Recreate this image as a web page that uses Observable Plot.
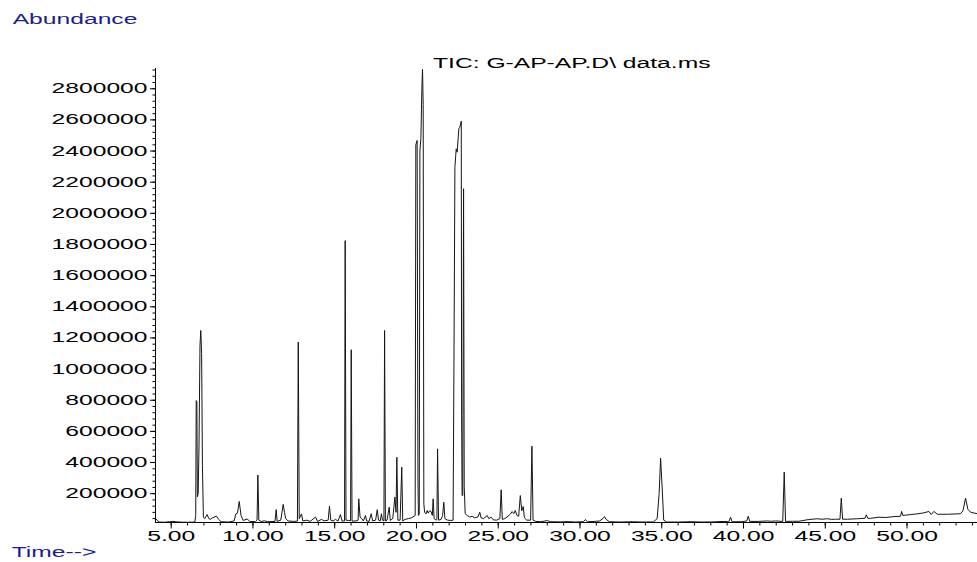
<!DOCTYPE html>
<html><head><meta charset="utf-8">
<script src="https://cdn.jsdelivr.net/npm/d3@7"></script>
<script src="https://cdn.jsdelivr.net/npm/@observablehq/plot@0.6"></script>
<style>
html,body{margin:0;padding:0;background:#fff;}
#chart{position:relative;width:977px;height:562px;overflow:hidden;}
</style></head><body><div id="chart"></div>
<script>
// Retention time (min)
const times = [
  4.04, 4.15, 4.25, 4.6, 4.9, 5.1, 5.35, 5.7, 6.0, 6.3,
  6.45, 6.50, 6.53, 6.57, 6.60, 6.65, 6.70, 6.76, 6.81, 6.86,
  6.91, 6.97, 7.05, 7.20, 7.30, 7.38, 7.52, 7.77, 7.90, 8.05,
  8.5, 8.85, 8.95, 9.05, 9.16, 9.27, 9.40, 9.65, 9.80, 10.15,
  10.25, 10.30, 10.36, 10.5, 10.7, 10.9, 11.35, 11.42, 11.48, 11.7,
  11.85, 11.93, 12.0, 12.15, 12.5, 12.72, 12.77, 12.83, 12.97, 13.05,
  13.3, 13.5, 13.83, 13.95, 14.2, 14.35, 14.6, 14.68, 14.76, 14.9,
  15.05, 15.20, 15.35, 15.45, 15.60, 15.64, 15.69, 15.85, 15.97, 16.01,
  16.06, 16.3, 16.43, 16.47, 16.55, 16.65, 16.75, 16.88, 16.95, 17.1,
  17.23, 17.32, 17.5, 17.60, 17.68, 17.78, 17.86, 17.92, 18.01, 18.05,
  18.10, 18.2, 18.33, 18.40, 18.55, 18.68, 18.75, 18.80, 18.86, 19.0,
  19.10, 19.16, 19.3, 19.5, 19.7, 19.85, 19.92, 19.96, 20.04, 20.09,
  20.12, 20.17, 20.21, 20.27, 20.33, 20.37, 20.41, 20.45, 20.50, 20.58,
  20.65, 20.72, 20.8, 20.9, 20.97, 21.02, 21.08, 21.2, 21.25, 21.29,
  21.35, 21.5, 21.6, 21.67, 21.74, 21.9, 22.1, 22.24, 22.30, 22.35,
  22.43, 22.49, 22.59, 22.65, 22.74, 22.76, 22.79, 22.83, 22.88, 22.92,
  22.98, 23.1, 23.25, 23.4, 23.55, 23.75, 23.87, 23.95, 24.1, 24.33,
  24.42, 24.57, 24.7, 24.9, 25.1, 25.18, 25.25, 25.4, 25.6, 25.75,
  25.85, 25.95, 26.04, 26.15, 26.25, 26.35, 26.44, 26.53, 26.6, 26.75,
  26.98, 27.06, 27.13, 27.3, 27.6, 28.0, 28.2, 28.8, 29.3, 29.7,
  30.2, 30.34, 30.45, 30.9, 31.2, 31.4, 31.5, 31.6, 31.8, 32.5,
  33.2, 33.8, 34.5, 34.72, 34.84, 34.93, 35.02, 35.12, 35.3, 36.0,
  36.8, 37.5, 38.2, 38.8, 39.1, 39.21, 39.3, 39.9, 40.2, 40.29,
  40.38, 40.9, 41.45, 41.7, 41.96, 42.4, 42.49, 42.57, 43.0, 43.39,
  43.99, 44.51, 44.8, 45.12, 45.4, 45.63, 45.9, 45.98, 46.06, 46.35,
  46.96, 47.43, 47.51, 47.6, 47.77, 48.28, 48.7, 49.20, 49.6, 49.67,
  49.75, 49.91, 50.22, 50.6, 51.03, 51.34, 51.48, 51.64, 51.85, 52.46,
  53.0, 53.27, 53.42, 53.58, 53.72, 53.89, 54.31
];
// Abundance (TIC counts)
const abundance = [
  39000, 30000, 18000, 17000, 20000, 22000, 19000, 17000, 17000, 17000,
  20000, 60000, 798000, 790000, 180000, 200000, 500000, 1150000, 1248000, 1100000,
  380000, 50000, 40000, 66000, 40000, 35000, 45000, 56000, 35000, 20000,
  18000, 25000, 70000, 75000, 150000, 60000, 28000, 38000, 22000, 20000,
  30000, 320000, 30000, 21000, 26000, 20000, 22000, 98000, 22000, 30000,
  131000, 80000, 40000, 25000, 22000, 24000, 1173000, 40000, 70000, 25000,
  30000, 22000, 50000, 22000, 35000, 25000, 30000, 120000, 30000, 25000,
  35000, 24000, 66000, 24000, 25000, 1825000, 30000, 28000, 26000, 1124000,
  24000, 25000, 30000, 167000, 50000, 40000, 25000, 60000, 25000, 22000,
  71000, 25000, 30000, 97000, 30000, 25000, 71000, 30000, 25000, 1248000,
  25000, 30000, 113000, 28000, 40000, 178000, 80000, 434000, 30000, 30000,
  370000, 25000, 35000, 40000, 45000, 55000, 60000, 2440000, 2468000, 300000,
  60000, 70000, 2400000, 2480000, 2800000, 2925000, 2700000, 135000, 80000, 70000,
  92000, 75000, 90000, 85000, 60000, 167000, 40000, 30000, 35000, 488000,
  30000, 35000, 60000, 145000, 40000, 30000, 28000, 30000, 1200000, 2296000,
  2414000, 2393000, 2543000, 2553000, 2592000, 700000, 188000, 188000, 2158000, 242000,
  71000, 60000, 50000, 55000, 45000, 50000, 81000, 45000, 40000, 60000,
  40000, 49000, 32000, 30000, 40000, 225000, 35000, 40000, 55000, 70000,
  85000, 72000, 92000, 60000, 55000, 188000, 90000, 118000, 45000, 30000,
  30000, 505000, 30000, 22000, 20000, 27000, 20000, 19000, 21000, 18000,
  20000, 34000, 20000, 22000, 25000, 40000, 53000, 35000, 20000, 18000,
  20000, 18000, 19000, 40000, 200000, 428000, 250000, 30000, 18000, 18000,
  20000, 18000, 19000, 22000, 20000, 49000, 20000, 20000, 25000, 55000,
  22000, 22000, 25000, 23000, 25000, 22000, 338000, 22000, 23000, 23000,
  34000, 39000, 36000, 39000, 35000, 36000, 36000, 171000, 36000, 36000,
  39000, 42000, 64000, 42000, 42000, 49000, 47000, 53000, 55000, 86000,
  60000, 62000, 66000, 70000, 77000, 86000, 66000, 86000, 68000, 68000,
  70000, 71000, 90000, 171000, 100000, 81000, 71000
];
const xTickValues = [5, 10, 15, 20, 25, 30, 35, 40, 45, 50];
const xMinorTicks = d3.range(5, 55, 1);
const yTickValues = d3.range(200000, 2800001, 200000);
const yMinorTicks = d3.range(40000, 2930000, 40000);
const yAxisTitle = "Abundance";
const xAxisTitle = "Time-->";
const chartTitle = "TIC: G-AP-AP.D\\ data.ms";
const xDomain = [4.04, 54.31];
const yDomain = [15000, 2930000];

const data = times.map((t, i) => ({t, a: abundance[i]}));

const plot = Plot.plot({
  width: 977, height: 562,
  marginLeft: 155, marginRight: 0, marginTop: 68, marginBottom: 40,
  style: {fontFamily: "'Liberation Sans', Arial, sans-serif", fontSize: "14px", color: "#000", background: "#fff"},
  x: {domain: xDomain, label: null},
  y: {domain: yDomain, label: null},
  marks: [
    Plot.axisY({ticks: yMinorTicks, tickSize: 2.5, tickFormat: () => "", label: null}),
    Plot.axisY({ticks: yTickValues, tickSize: 5, tickPadding: 3, tickFormat: d3.format("d"), label: null}),
    Plot.axisX({ticks: xMinorTicks, tickSize: 3.5, tickFormat: () => "", label: null}),
    Plot.axisX({ticks: xTickValues, tickSize: 6.5, tickPadding: 2.5, tickFormat: d3.format(".2f"), label: null}),
    Plot.ruleX([xDomain[0]], {stroke: "#000"}),
    Plot.ruleY([yDomain[0]], {stroke: "#000"}),
    Plot.line(data, {x: "t", y: "a", stroke: "#151515", strokeWidth: 1})
  ]
});
document.getElementById("chart").append(plot);

const svg = d3.select(plot);
const blue = "#1c1c96";
svg.append("text").attr("x", 12.7).attr("y", 24).attr("fill", blue)
  .attr("text-anchor", "start").attr("font-size", 14).text(yAxisTitle);
svg.append("text").attr("x", 433).attr("y", 68.3).attr("fill", "#000")
  .attr("text-anchor", "start").attr("font-size", 14).text(chartTitle);
svg.append("text").attr("x", 11.7).attr("y", 557).attr("fill", blue)
  .attr("text-anchor", "start").attr("font-size", 14).text(xAxisTitle);

const STRETCH = 1.76;
plot.querySelectorAll("text").forEach(el => {
  if (!el.textContent) return;
  const len = el.getComputedTextLength();
  el.setAttribute("textLength", (len * STRETCH).toFixed(1));
  el.setAttribute("lengthAdjust", "spacingAndGlyphs");
});
</script></body></html>
